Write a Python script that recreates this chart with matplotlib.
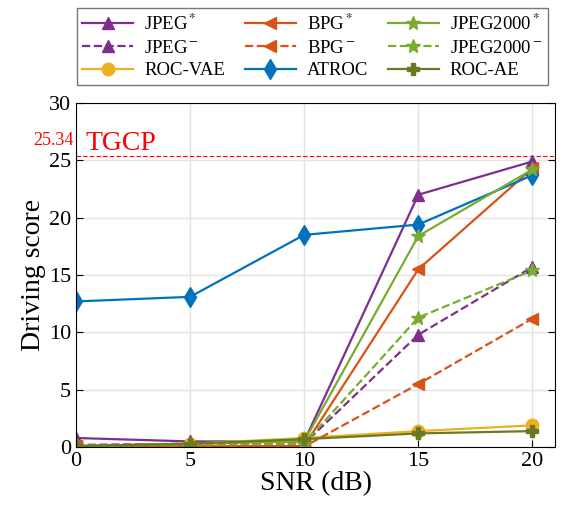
import matplotlib
matplotlib.use("Agg")
from matplotlib import pyplot as plt

plt.rcParams['font.family'] = ['Liberation Serif', 'DejaVu Serif']
plt.rcParams['mathtext.fontset'] = 'stix'

snr = [0, 5, 10, 15, 20]
jpeg_star = [0.8, 0.5, 0.5, 22.0, 24.9]
jpeg_minus = [0.2, 0.3, 0.3, 9.8, 15.7]
bpg_star = [0.1, 0.1, 0.1, 15.5, 24.3]
bpg_minus = [0.1, 0.05, 0.05, 5.5, 11.2]
j2k_star = [0.1, 0.3, 0.5, 18.4, 24.2]
j2k_minus = [0.1, 0.2, 0.3, 11.3, 15.4]
roc_vae = [0.1, 0.3, 0.8, 1.4, 1.9]
atroc = [12.7, 13.1, 18.5, 19.4, 23.7]
roc_ae = [0.1, 0.3, 0.7, 1.2, 1.4]
tgcp = 25.34

purple = '#7E2F8E'
orange = '#D95319'
green = '#77AC30'
yellow = '#EDB120'
blue = '#0072BD'
olive = '#6B7A22'

fig = plt.figure(figsize=(5.62, 5.07), dpi=100)
ax = fig.add_axes([0.135, 0.118, 0.853, 0.679])

ax.axhline(tgcp, color='red', linestyle='--', linewidth=0.8, dashes=(4, 2))

ax.plot(snr, jpeg_star, '-', marker='^', color=purple, lw=1.6, ms=9, label='JPEG$^*$')
ax.plot(snr, jpeg_minus, '--', marker='^', color=purple, lw=1.6, ms=9, label='JPEG$^-$')
ax.plot(snr, roc_vae, '-', marker='o', color=yellow, lw=1.6, ms=9, label='ROC-VAE')
ax.plot(snr, bpg_star, '-', marker='<', color=orange, lw=1.6, ms=9, label='BPG$^*$')
ax.plot(snr, bpg_minus, '--', marker='<', color=orange, lw=1.6, ms=9, label='BPG$^-$')
ax.plot(snr, atroc, '-', marker='d', color=blue, lw=1.6, ms=10, label='ATROC')
ax.plot(snr, j2k_star, '-', marker='*', color=green, lw=1.6, ms=10, label='JPEG2000$^*$')
ax.plot(snr, j2k_minus, '--', marker='*', color=green, lw=1.6, ms=10, label='JPEG2000$^-$')
ax.plot(snr, roc_ae, '-', marker='P', color=olive, lw=1.6, ms=9, label='ROC-AE')

ax.text(-0.1, 26.35, '25.34', color='red', fontsize=13, ha='right', va='baseline')
ax.text(0.4, 25.9, 'TGCP', color='red', fontsize=20, ha='left', va='baseline')

ax.set_xlim(0, 21)
ax.set_ylim(0, 30)
ax.set_xticks([0, 5, 10, 15, 20])
ax.set_yticks([0, 5, 10, 15, 20, 25, 30])
ax.grid(color='#e3e3e3', linewidth=1)
ax.set_axisbelow(True)
ax.tick_params(direction='in', right=True, top=False, labelsize=16, length=5)
ax.set_xlabel('SNR (dB)', fontsize=20, labelpad=0)
ax.set_ylabel('Driving score', fontsize=20, labelpad=2)

ax.legend(ncol=3, fontsize=13.5, loc='lower left', bbox_to_anchor=(0.002, 1.052, 0.983, 0.235),
          mode='expand', borderaxespad=0, fancybox=False, edgecolor='#555555',
          handlelength=2.7, handletextpad=0.6, borderpad=0.3, labelspacing=0.3,
          columnspacing=1.0)

fig.savefig('out.png', dpi=100)
